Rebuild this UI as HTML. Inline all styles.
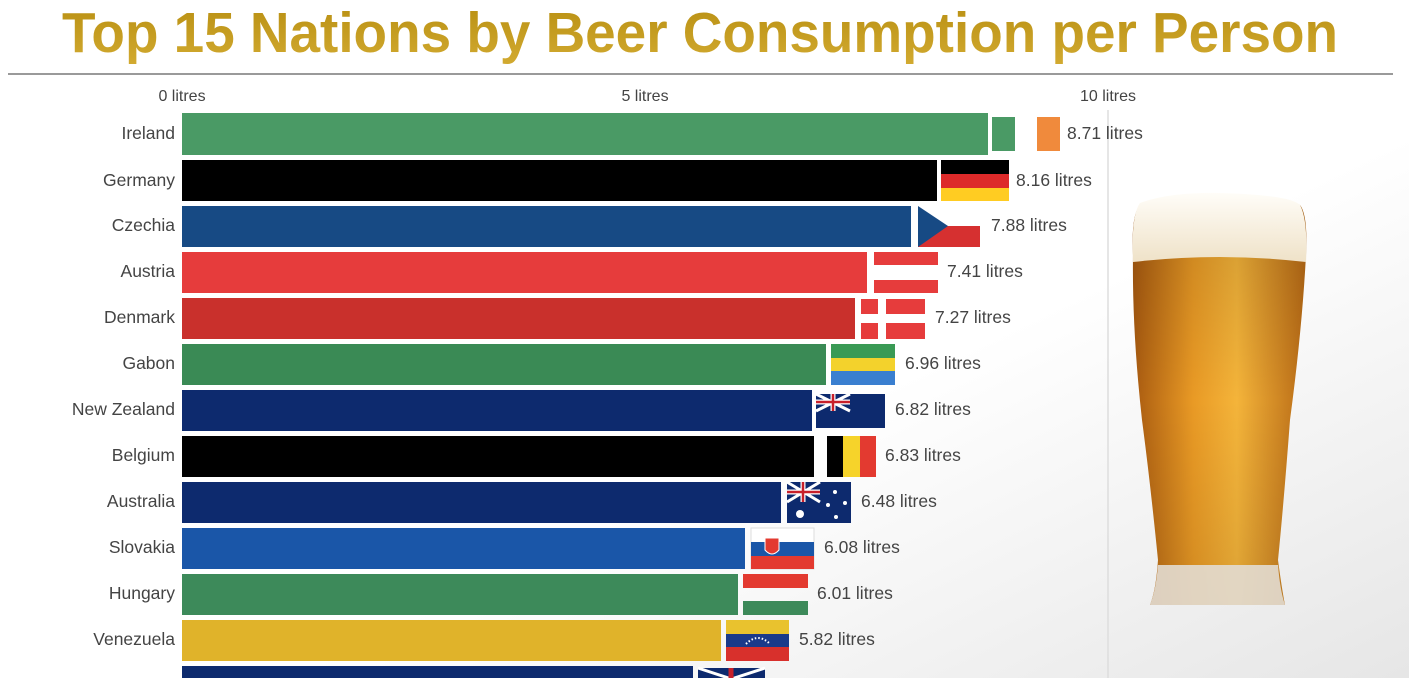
<!DOCTYPE html>
<html><head><meta charset="utf-8"><style>
html,body{margin:0;padding:0;width:1409px;height:678px;overflow:hidden;background:linear-gradient(#fafafa,#ffffff 40%,#f0f0f0);}
svg{position:absolute;left:0;top:0}
text{font-family:"Liberation Sans",sans-serif;}
</style></head><body>
<svg width="1409" height="678" viewBox="0 0 1409 678">
<defs>
<linearGradient id="gold" x1="0" y1="0" x2="0" y2="1"><stop offset="0" stop-color="#b88f12"/><stop offset="1" stop-color="#d2aa30"/></linearGradient>
<linearGradient id="bg" x1="0" y1="0" x2="1" y2="1"><stop offset="0" stop-color="#ffffff"/><stop offset="0.6" stop-color="#ffffff"/><stop offset="1" stop-color="#e6e6e6"/></linearGradient>
<linearGradient id="beer" x1="0" y1="0" x2="1" y2="0"><stop offset="0" stop-color="#a85a10"/><stop offset="0.35" stop-color="#e99a25"/><stop offset="0.6" stop-color="#f4b43a"/><stop offset="1" stop-color="#b86a15"/></linearGradient>
<linearGradient id="beerv" x1="0" y1="0" x2="0" y2="1"><stop offset="0" stop-color="#000" stop-opacity="0.15"/><stop offset="0.5" stop-color="#000" stop-opacity="0"/><stop offset="1" stop-color="#000" stop-opacity="0.1"/></linearGradient>
<linearGradient id="foam" x1="0" y1="0" x2="0" y2="1"><stop offset="0" stop-color="#fffdf8"/><stop offset="1" stop-color="#efe2c8"/></linearGradient>
</defs>
<rect width="1409" height="678" fill="url(#bg)"/>
<text x="700" y="52" text-anchor="middle" font-family="Liberation Sans Narrow, Liberation Sans, sans-serif" font-weight="bold" font-size="57" fill="url(#gold)" textLength="1276" lengthAdjust="spacingAndGlyphs">Top 15 Nations by Beer Consumption per Person</text>
<rect x="8" y="73" width="1385" height="2" fill="#9a9a9a"/>
<g font-size="16" fill="#444" text-anchor="middle">
<text x="182" y="101">0 litres</text><text x="645" y="101">5 litres</text><text x="1108" y="101">10 litres</text>
</g>
<line x1="1108" y1="110" x2="1108" y2="678" stroke="#ddd" stroke-width="1.5"/>
<g font-size="17.5" fill="#444" text-anchor="end">
<text x="175" y="139">Ireland</text><text x="175" y="186">Germany</text><text x="175" y="231">Czechia</text><text x="175" y="277">Austria</text><text x="175" y="323">Denmark</text><text x="175" y="369">Gabon</text><text x="175" y="415">New Zealand</text><text x="175" y="461">Belgium</text><text x="175" y="507">Australia</text><text x="175" y="553">Slovakia</text><text x="175" y="599">Hungary</text><text x="175" y="645">Venezuela</text>
</g>
<rect x="182" y="113" width="806" height="42" fill="#4a9a65"/>
<rect x="182" y="160" width="755" height="41" fill="#000"/>
<rect x="182" y="206" width="729" height="41" fill="#174a84"/>
<rect x="182" y="252" width="685" height="41" fill="#e63c3c"/>
<rect x="182" y="298" width="673" height="41" fill="#c9302c"/>
<rect x="182" y="344" width="644" height="41" fill="#3a8a55"/>
<rect x="182" y="390" width="630" height="41" fill="#0d2a6e"/>
<rect x="182" y="436" width="632" height="41" fill="#000"/>
<rect x="182" y="482" width="599" height="41" fill="#0d2a6e"/>
<rect x="182" y="528" width="563" height="41" fill="#1a56a8"/>
<rect x="182" y="574" width="556" height="41" fill="#3d8a5a"/>
<rect x="182" y="620" width="539" height="41" fill="#e0b32a"/>
<rect x="182" y="666" width="511" height="41" fill="#0d2a6e"/>
<rect x="992" y="117" width="23" height="34" fill="#4a9a65"/><rect x="1037" y="117" width="23" height="34" fill="#f08a3c"/>
<rect x="941" y="160" width="68" height="14" fill="#000"/><rect x="941" y="174" width="68" height="14" fill="#dd2a2a"/><rect x="941" y="188" width="68" height="13" fill="#ffcc22"/>
<rect x="918" y="226" width="62" height="21" fill="#d63030"/><polygon points="918,206 948,226 918,247" fill="#174a84"/>
<rect x="874" y="252" width="64" height="13" fill="#e63c3c"/><rect x="874" y="280" width="64" height="13" fill="#e63c3c"/>
<rect x="861" y="299" width="17" height="15" fill="#e63c3c"/><rect x="886" y="299" width="39" height="15" fill="#e63c3c"/><rect x="861" y="323" width="17" height="16" fill="#e63c3c"/><rect x="886" y="323" width="39" height="16" fill="#e63c3c"/>
<rect x="831" y="344" width="64" height="14" fill="#3a9a55"/><rect x="831" y="358" width="64" height="13" fill="#f3d22c"/><rect x="831" y="371" width="64" height="14" fill="#3a7fd0"/>
<rect x="816" y="394" width="69" height="34" fill="#0d2a6e"/><path d="M816,394 L850,411 M850,394 L816,411" stroke="#fff" stroke-width="3"/><path d="M833,394 V411 M816,402 H850" stroke="#fff" stroke-width="5"/><path d="M833,394 V411 M816,402 H850" stroke="#c8202a" stroke-width="2.5"/>
<rect x="827" y="436" width="16" height="41" fill="#000"/><rect x="843" y="436" width="17" height="41" fill="#f6d32a"/><rect x="860" y="436" width="16" height="41" fill="#e33a30"/>
<rect x="787" y="482" width="64" height="41" fill="#0d2a6e"/><path d="M787,482 L820,502 M820,482 L787,502" stroke="#fff" stroke-width="3"/><path d="M803,482 V502 M787,492 H820" stroke="#fff" stroke-width="5"/><path d="M803,482 V502 M787,492 H820" stroke="#c8202a" stroke-width="2.5"/><circle cx="800" cy="514" r="4" fill="#fff"/><circle cx="835" cy="492" r="2" fill="#fff"/><circle cx="845" cy="503" r="2" fill="#fff"/><circle cx="836" cy="517" r="2" fill="#fff"/><circle cx="828" cy="505" r="2" fill="#fff"/>
<rect x="751" y="528" width="63" height="41" fill="#fff" stroke="#ddd"/><rect x="751" y="542" width="63" height="14" fill="#1a56a8"/><rect x="751" y="556" width="63" height="13" fill="#e33a30"/><path d="M765,538 h14 v12 q-7,8 -14,0z" fill="#e33a30" stroke="#fff"/>
<rect x="743" y="574" width="65" height="14" fill="#e33a30"/><rect x="743" y="601" width="65" height="14" fill="#3d8a5a"/>
<rect x="726" y="620" width="63" height="14" fill="#e9c22e"/><rect x="726" y="634" width="63" height="13" fill="#1a3a8a"/><rect x="726" y="647" width="63" height="14" fill="#d8302c"/><path d="M746,644 q12,-12 24,0" stroke="#fff" stroke-width="2" fill="none" stroke-dasharray="1.5 2"/>
<rect x="698" y="668" width="67" height="10" fill="#0d2a6e"/><path d="M698,668 L765,690 M765,668 L698,690" stroke="#fff" stroke-width="3"/><path d="M731,668 V678" stroke="#c8202a" stroke-width="5"/>
<g font-size="17.5" fill="#444">
<text x="1067" y="139">8.71 litres</text><text x="1016" y="186">8.16 litres</text><text x="991" y="231">7.88 litres</text><text x="947" y="277">7.41 litres</text><text x="935" y="323">7.27 litres</text><text x="905" y="369">6.96 litres</text><text x="895" y="415">6.82 litres</text><text x="885" y="461">6.83 litres</text><text x="861" y="507">6.48 litres</text><text x="824" y="553">6.08 litres</text><text x="817" y="599">6.01 litres</text><text x="799" y="645">5.82 litres</text>
</g>
<path d="M1133,255 Q1131,215 1140,205 Q1220,185 1300,205 Q1308,215 1306,255 Q1302,330 1290,420 Q1284,500 1278,560 Q1282,590 1285,605 L1150,605 Q1156,590 1158,560 Q1150,480 1142,420 Q1132,330 1133,255Z" fill="url(#beer)"/>
<path d="M1133,255 Q1131,215 1140,205 Q1220,185 1300,205 Q1308,215 1306,255 Q1302,330 1290,420 Q1284,500 1278,560 Q1282,590 1285,605 L1150,605 Q1156,590 1158,560 Q1150,480 1142,420 Q1132,330 1133,255Z" fill="url(#beerv)"/>
<path d="M1133,262 Q1131,215 1140,203 Q1170,192 1220,193 Q1290,195 1300,205 Q1308,220 1306,262 Q1220,252 1133,262Z" fill="url(#foam)"/>
<path d="M1158,565 Q1156,590 1150,605 L1285,605 Q1280,590 1278,565 Z" fill="#e2dbd2" opacity="0.9"/>
</svg>
</body></html>
